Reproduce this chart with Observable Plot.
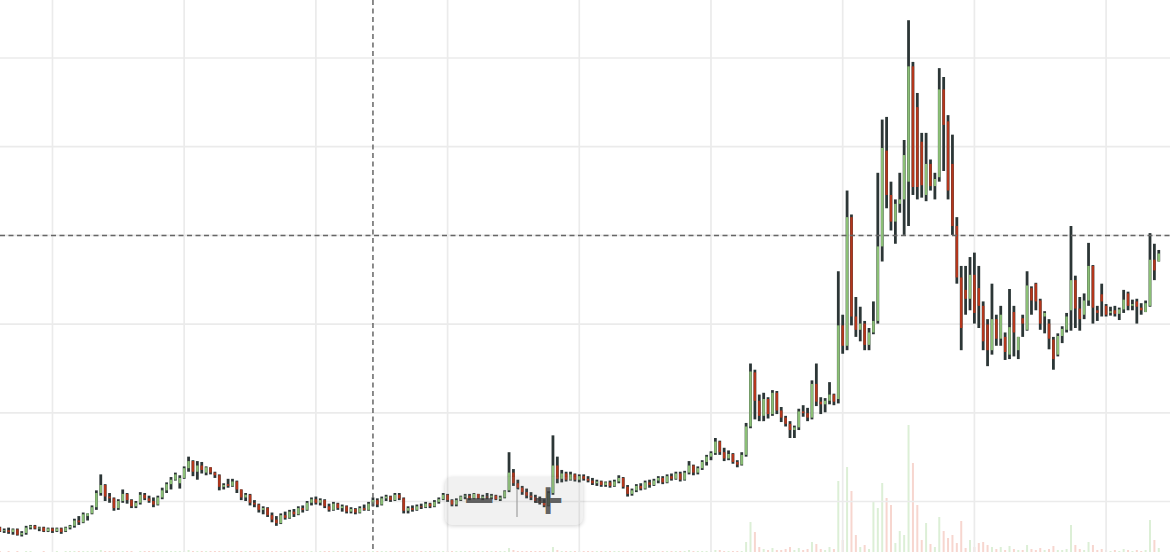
<!DOCTYPE html>
<html><head><meta charset="utf-8">
<script src="https://cdn.jsdelivr.net/npm/d3@7"></script>
<script src="https://cdn.jsdelivr.net/npm/@observablehq/plot@0.6"></script>
<style>
html,body{margin:0;padding:0;background:#fff;}
#wrap{position:relative;width:1170px;height:552px;overflow:hidden;font-family:"DejaVu Sans",sans-serif;}
#wrap svg{position:absolute;left:0;top:0;}
#zoomctl{position:absolute;left:445px;top:477px;width:138px;height:48px;border-radius:7px;background:rgba(140,140,140,0.12);box-shadow:0 1px 4px rgba(0,0,0,0.18);}
#sep{position:absolute;left:516px;top:490px;width:2px;height:27px;background:rgba(160,160,160,0.6);}
.btn{position:absolute;width:50px;height:42px;line-height:42px;text-align:center;font-size:42px;font-weight:bold;color:rgba(60,60,60,0.8);}
</style>
</head><body>
<div id="wrap"><div id="vol"></div><div id="price"></div>
<div id="zoomctl"></div><div id="sep"></div>
<span class="btn" style="left:454px;top:479px;">−</span>
<span class="btn" style="left:523px;top:479px;">+</span>
</div>
<script>
// candle index (one per period)
const open = [
7.0,6.6,6.7,6.5,6.8,6.2,6.4,7.0,7.2,6.9,
7.0,6.6,6.9,6.6,6.9,6.6,7.0,7.2,7.8,7.6,
8.3,8.6,9.3,10.9,11.8,10.5,10.3,9.2,10.0,10.8,
10.1,9.4,9.8,10.7,10.3,10.0,9.6,10.4,11.2,11.9,
12.4,12.0,12.6,13.7,14.5,13.3,14.0,13.2,13.8,13.2,
12.9,11.6,11.9,11.7,12.2,11.3,10.4,10.7,9.8,9.6,
9.0,9.2,8.4,7.9,7.5,8.4,8.1,8.8,8.5,9.2,
9.0,9.8,10.2,9.8,10.1,9.4,9.0,9.7,9.2,9.4,
8.8,9.1,8.7,9.2,9.0,9.7,10.1,9.6,10.3,10.5,
10.1,10.7,10.3,8.9,9.2,9.0,9.4,9.3,9.7,9.4,
9.9,10.2,10.7,10.1,9.6,10.1,10.5,10.6,10.3,10.8,
10.3,10.5,10.4,10.6,10.2,10.4,11.2,13.2,12.0,11.5,
11.0,10.6,10.4,10.0,9.8,9.5,10.9,14.0,12.5,13.1,
12.4,13.0,12.4,12.8,12.5,12.3,12.0,12.2,11.8,12.1,
11.7,12.2,12.6,11.6,10.8,11.2,11.7,11.4,12.1,11.8,
12.3,12.6,12.1,12.8,12.5,13.1,12.4,13.2,14.0,13.2,
13.7,14.4,15.0,15.4,16.7,15.5,14.8,15.3,14.4,14.1,
15.2,18.4,24.5,21.3,19.6,21.5,19.8,22.2,20.2,19.4,
18.7,18.0,18.3,20.1,19.9,19.4,23.2,21.2,20.9,21.3,
22.0,21.5,29.8,27.5,42.0,30.8,29.3,30.0,27.6,29.0,
30.3,38.7,49.5,44.5,41.5,43.5,44.0,46.0,59.0,54.4,
50.5,44.5,48.0,45.5,46.5,56.4,52.8,48.0,41.0,35.2,
33.8,32.8,35.5,34.0,32.0,29.9,27.0,30.5,28.3,28.5,
26.5,31.3,27.0,30.6,29.3,34.0,34.5,32.6,30.8,30.0,
28.2,26.5,28.6,29.3,31.5,34.9,31.7,31.0,32.6,36.5,
31.5,33.3,32.0,31.2,31.5,31.1,31.6,33.4,32.0,32.5,
31.8,31.3,32.0,37.2,37.0];
const high = [
7.1,6.9,7.0,6.9,6.9,6.6,7.2,7.3,7.3,7.1,
7.1,7.0,7.0,7.0,7.0,7.1,7.3,8.0,8.3,8.7,
8.6,9.5,11.2,13.0,11.9,10.9,10.4,10.2,11.3,10.9,
10.2,10.0,11.0,10.9,10.6,10.4,10.6,11.5,12.1,12.7,
13.2,12.9,13.9,15.0,14.6,14.5,14.4,13.9,13.8,13.3,
13.0,12.0,12.5,12.5,12.3,11.3,10.9,10.8,10.1,9.7,
9.4,9.3,8.7,8.3,8.6,8.8,9.0,9.1,9.4,9.5,
10.0,10.4,10.5,10.3,10.2,9.7,9.9,9.8,9.6,9.5,
9.3,9.2,9.4,9.6,9.9,10.4,10.3,10.5,10.7,10.6,
10.9,10.9,10.4,9.4,9.5,9.6,9.7,9.9,9.8,10.1,
10.4,10.9,10.8,10.2,10.3,10.6,10.8,10.8,10.9,10.8,
10.7,10.9,10.8,10.7,10.6,11.2,15.5,13.6,12.4,11.7,
11.4,11.0,10.7,10.5,10.2,11.1,17.4,15.0,13.5,13.3,
13.3,13.1,13.0,13.0,12.8,12.6,12.4,12.3,12.2,12.3,
12.4,12.9,12.7,11.8,11.4,11.9,12.0,12.3,12.4,12.5,
12.8,12.8,13.0,13.1,13.3,13.3,13.4,14.5,14.1,13.9,
14.6,15.2,15.6,17.1,16.8,16.0,15.7,15.4,14.6,15.5,
18.8,25.5,24.8,22.0,22.2,21.7,22.5,22.4,20.6,19.6,
19.0,18.5,20.4,20.8,20.5,23.6,25.5,21.7,21.6,23.4,
22.1,35.9,31.0,45.0,42.3,33.0,31.9,30.3,29.5,32.5,
47.0,53.0,53.3,46.0,44.0,47.0,50.7,64.2,59.5,56.0,
51.5,51.5,48.5,47.0,58.8,57.8,53.5,51.3,42.0,36.5,
36.5,37.5,38.0,36.5,32.5,30.5,34.5,31.0,32.0,29.0,
33.9,32.0,28.5,31.0,35.9,34.2,34.6,32.8,31.4,30.5,
28.5,28.9,29.7,31.2,41.0,35.4,33.0,33.4,39.1,36.6,
32.0,34.5,32.2,31.9,32.0,31.8,33.8,33.6,32.7,32.8,
32.3,32.6,40.2,39.0,38.3];
const low = [
6.5,6.4,6.3,6.2,6.1,6.0,6.2,6.8,6.8,6.6,
6.5,6.5,6.4,6.5,6.3,6.5,6.8,7.0,7.3,7.5,
7.8,8.5,9.0,10.6,10.0,9.8,8.9,9.0,9.8,9.7,
9.2,9.2,9.6,10.1,9.8,9.3,9.5,10.2,10.9,11.3,
12.3,11.4,12.5,13.3,12.8,12.4,13.1,12.9,13.0,12.6,
11.2,11.3,11.5,11.6,10.9,10.1,10.0,9.5,9.3,8.7,
8.5,8.2,7.6,7.2,7.4,7.9,8.0,8.2,8.4,8.7,
8.9,9.5,9.6,9.5,9.2,8.8,8.9,9.0,8.8,8.6,
8.6,8.5,8.6,8.9,8.9,9.4,9.3,9.5,10.0,9.9,
10.0,10.1,8.6,8.6,8.8,8.9,9.1,9.2,9.2,9.3,
9.7,10.1,9.9,9.4,9.4,10.0,10.2,10.1,10.2,10.2,
10.1,10.2,10.2,10.1,10.0,10.3,11.0,11.7,11.3,10.7,
10.3,10.1,9.8,9.6,9.3,9.4,10.7,12.0,12.1,12.2,
12.3,12.2,12.1,12.3,12.1,11.8,11.7,11.6,11.6,11.5,
11.6,12.0,11.4,10.5,10.6,11.0,11.2,11.3,11.5,11.7,
12.0,11.9,12.0,12.3,12.4,12.2,12.3,13.0,12.9,13.0,
13.5,14.0,14.6,15.2,15.2,14.5,14.6,14.2,13.8,14.0,
15.0,18.2,19.2,19.0,19.0,19.3,19.6,19.8,18.9,18.4,
17.1,17.1,18.0,19.5,19.0,19.2,20.7,19.8,20.0,20.9,
20.8,21.0,26.6,27.0,29.8,28.5,28.0,27.0,27.0,28.8,
30.0,37.0,43.0,40.5,39.0,42.5,40.0,41.0,44.5,44.0,
44.2,43.8,45.0,44.0,46.0,47.2,44.0,40.0,34.5,27.0,
31.0,31.5,30.0,29.5,27.0,25.2,26.5,27.5,27.5,25.9,
26.0,26.3,26.0,28.5,29.2,31.0,31.5,29.3,28.9,27.1,
24.8,26.3,27.8,29.0,29.2,29.5,29.2,30.5,32.0,30.0,
30.3,30.8,30.8,30.9,30.8,30.4,31.2,31.5,31.5,30.0,
31.0,31.3,31.9,34.9,37.0];
const close = [
6.6,6.7,6.5,6.8,6.2,6.4,7.0,7.2,6.9,7.0,
6.6,6.9,6.6,6.9,6.5,7.0,7.2,7.8,7.6,8.5,
8.6,9.3,10.9,11.8,10.5,10.3,9.2,10.0,10.8,10.1,
9.4,9.8,10.7,10.3,10.0,9.6,10.4,11.2,11.9,12.4,
13.0,12.6,13.7,14.5,13.3,14.0,13.5,13.8,13.2,12.9,
11.6,11.8,11.7,12.2,11.3,10.4,10.7,9.8,9.6,9.0,
9.2,8.4,7.9,7.5,8.4,8.1,8.8,8.5,9.2,9.0,
9.8,10.2,9.8,10.1,9.4,9.0,9.7,9.2,9.4,8.8,
9.1,8.7,9.2,9.0,9.7,10.1,9.6,10.3,10.5,10.1,
10.7,10.3,8.9,9.2,9.0,9.4,9.3,9.7,9.4,9.9,
10.2,10.7,10.1,9.6,10.1,10.5,10.6,10.3,10.8,10.3,
10.5,10.4,10.6,10.2,10.4,11.1,13.2,12.0,11.5,11.0,
10.6,10.4,10.0,9.8,9.5,10.9,14.0,12.5,13.1,12.4,
13.0,12.4,12.8,12.5,12.3,12.0,12.2,11.8,12.1,11.7,
12.2,12.6,11.6,10.8,11.2,11.7,11.4,12.1,11.8,12.3,
12.6,12.1,12.8,12.5,13.1,12.4,13.2,14.0,13.2,13.7,
14.4,15.0,15.4,16.7,15.5,14.8,15.3,14.4,14.1,15.2,
18.4,24.6,21.3,19.6,21.5,19.8,22.2,20.2,19.4,18.7,
18.0,18.3,20.1,19.9,19.4,23.2,21.2,20.9,21.3,22.0,
21.2,29.8,27.5,42.0,30.8,29.3,30.0,27.6,29.0,30.3,
38.7,49.8,44.5,41.5,43.5,44.0,49.0,59.0,45.4,45.4,
45.6,48.0,45.5,46.3,56.4,52.4,45.0,41.0,35.2,29.5,
32.8,35.5,31.2,32.0,28.0,27.0,30.5,28.3,31.0,26.8,
29.6,29.0,28.5,30.0,34.3,32.6,32.5,30.0,31.2,28.3,
26.0,28.6,29.4,30.8,34.9,31.7,30.5,32.6,36.5,31.8,
31.2,32.5,31.0,31.4,31.1,31.6,32.7,32.0,32.2,31.9,
31.5,32.3,37.2,36.0,37.9];
const volume = [
1,0,1,0,1,0,1,1,0,0,1,0,0,1,0,1,1,1,1,1,
1,1,1,2,1,1,1,1,1,1,1,0,1,1,1,1,1,1,1,1,
1,1,1,2,1,1,1,1,1,1,1,1,1,1,1,1,1,1,1,1,
1,1,1,1,1,1,1,1,1,1,1,1,1,1,1,1,1,1,1,1,
1,1,1,1,1,1,1,1,1,1,1,1,1,1,1,1,1,1,1,1,
1,1,1,1,1,1,1,1,1,1,1,1,1,1,1,1,4,2,1,1,
1,1,1,1,1,1,5,2,1,1,1,1,1,1,1,1,1,1,1,1,
1,1,1,1,1,1,1,1,1,1,1,1,1,1,1,1,1,2,1,1,
1,1,1,2,2,1,1,1,1,1,
10,30,20,5,3,2,4,2,2,3,
5,2,4,2,3,10,8,3,2,5,
3,71,12,85,61,17,5,7,3,50,
44,69,54,47,9,21,17,127,89,47,
12,29,8,5,35,21,14,17,9,31,
4,12,5,9,10,7,5,3,5,2,
6,3,2,2,7,3,2,4,2,3,
6,2,2,3,27,7,3,2,10,7,
2,3,2,1,2,1,3,2,1,2,
1,2,32,12,4];
const xTicks = [12, 42, 72, 102, 132, 162, 192, 222, 252];
const yTicks = [10, 20, 30, 40, 50, 60];
const crossX = [85];
const crossY = [40];

const candles = open.map((o, i) => ({i, o, h: high[i], l: low[i], c: close[i], v: volume[i]}));
const xDomain = [0.16, 266.67];

const volPlot = Plot.plot({
  width: 1170, height: 552, margin: 0,
  x: {domain: xDomain, axis: null},
  y: {domain: [0, 552], axis: null},
  color: {type: "identity"},
  marks: [
    Plot.ruleX(candles, {x: "i", y1: 0, y2: "v", stroke: d => d.c >= d.o ? "#dcefd6" : "#f7d6cf", strokeWidth: 2})
  ]
});
document.getElementById("vol").appendChild(volPlot);

const pricePlot = Plot.plot({
  width: 1170, height: 552, margin: 0,
  style: {background: "transparent"},
  x: {domain: xDomain, axis: null},
  y: {domain: [4.25, 66.48], axis: null},
  color: {type: "identity"},
  marks: [
    Plot.ruleY(yTicks, {stroke: "#ebebeb", strokeWidth: 1.7}),
    Plot.ruleX(xTicks, {stroke: "#ebebeb", strokeWidth: 1.7}),
    Plot.ruleX(candles, {x: "i", y1: "l", y2: "h", stroke: "#2c3636", strokeWidth: 2.8}),
    Plot.ruleX(candles, {x: "i", y1: "o", y2: "c", stroke: d => d.c >= d.o ? "#8bbf76" : "#b3361c", strokeWidth: 2.4}),
    Plot.ruleY(crossY, {stroke: "#666", strokeWidth: 1.5, strokeDasharray: "5,3.5"}),
    Plot.ruleX(crossX, {stroke: "#666", strokeWidth: 1.5, strokeDasharray: "5,3.5"})
  ]
});
document.getElementById("price").appendChild(pricePlot);
</script>
</body></html>
